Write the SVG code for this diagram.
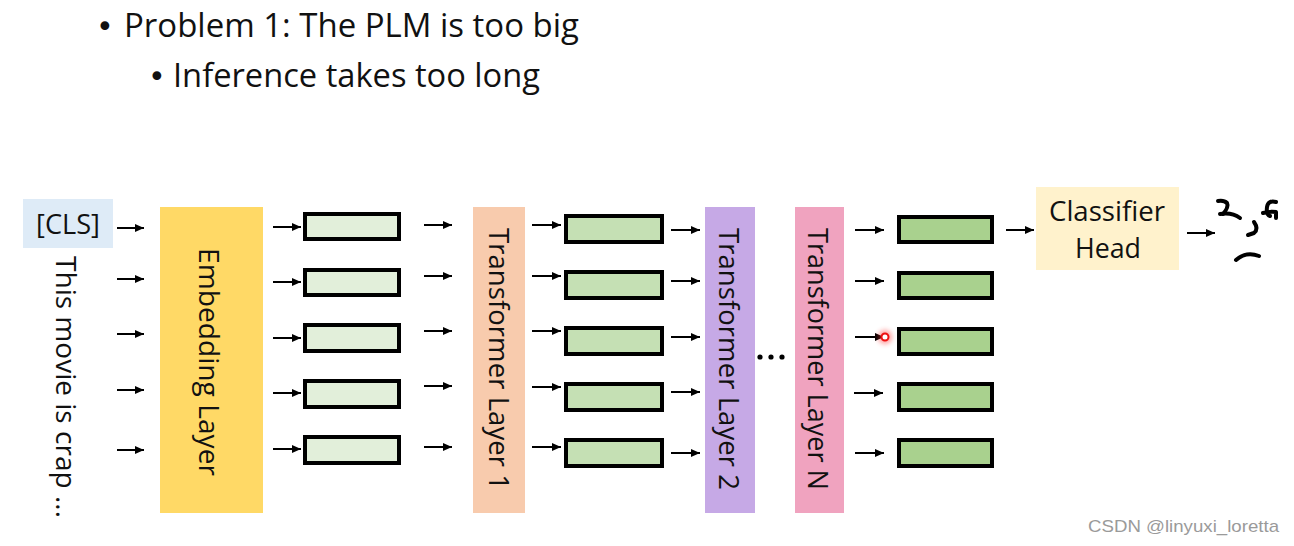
<svg xmlns="http://www.w3.org/2000/svg" width="1294" height="546" viewBox="0 0 1294 546">
<defs>
<marker id="ah" markerUnits="userSpaceOnUse" markerWidth="10" markerHeight="8" refX="9" refY="4" orient="auto">
<path d="M0,0 L9,4 L0,8 z" fill="#000"/>
</marker>
<filter id="glow" x="-1" y="-1" width="3" height="3"><feGaussianBlur stdDeviation="2.5"/></filter>
</defs>
<style>
text{font-family:"Open Sans","Noto Sans","Liberation Sans",sans-serif;fill:#111;}
.t{font-size:32px;}
.b{font-family:"DejaVu Sans",sans-serif;font-size:30px;}
.lbl{font-size:27px;}
.vec{stroke:#000;stroke-width:4;}
.c1{fill:#e2efda;}
.c2{fill:#c5e0b4;}
.c3{fill:#a9d18e;}
.ar{stroke:#000;stroke-width:2;marker-end:url(#ah);fill:none;}
.doodle{fill:none;stroke:#000;stroke-width:4;stroke-linecap:round;stroke-linejoin:round;}
.wm{font-family:"Liberation Sans",sans-serif;font-size:17px;fill:#9a9a9a;}
</style>
<rect width="1294" height="546" fill="#fff"/>

<g id="title">
<text class="b" x="96" y="37">•</text>
<text class="t" x="124" y="37" textLength="455" lengthAdjust="spacingAndGlyphs">Problem 1: The PLM is too big</text>
<text class="b" x="148" y="87">•</text>
<text class="t" x="173" y="87" textLength="367" lengthAdjust="spacingAndGlyphs">Inference takes too long</text>
</g>

<g id="cls">
<rect x="23" y="199" width="90" height="49" fill="#deebf7"/>
<text class="lbl" x="68" y="234" text-anchor="middle" textLength="64" lengthAdjust="spacingAndGlyphs">[CLS]</text>
</g>

<g id="sentence">
<text class="lbl" transform="translate(56,256) rotate(90)" textLength="262" lengthAdjust="spacingAndGlyphs">This movie is crap ...</text>
</g>

<g id="embedding">
<rect x="160" y="207" width="103" height="306" fill="#ffd966"/>
<text class="lbl" transform="translate(199,248) rotate(90)" textLength="228" lengthAdjust="spacingAndGlyphs">Embedding Layer</text>
</g>

<g id="emb-out">
<rect class="vec c1" x="305" y="214" width="94" height="25"/>
<rect class="vec c1" x="305" y="270" width="94" height="25"/>
<rect class="vec c1" x="305" y="325" width="94" height="26"/>
<rect class="vec c1" x="305" y="381" width="94" height="26"/>
<rect class="vec c1" x="305" y="437" width="94" height="26"/>
</g>

<g id="transformer1">
<rect x="473" y="207" width="52" height="306" fill="#f8cbad"/>
<text class="lbl" transform="translate(489,228) rotate(90)" textLength="262" lengthAdjust="spacingAndGlyphs">Transformer Layer 1</text>
</g>

<g id="t1-out">
<rect class="vec c2" x="566" y="216" width="96" height="26"/>
<rect class="vec c2" x="566" y="272" width="96" height="26"/>
<rect class="vec c2" x="566" y="328" width="96" height="26"/>
<rect class="vec c2" x="566" y="384" width="96" height="26"/>
<rect class="vec c2" x="566" y="440" width="96" height="26"/>
</g>

<g id="transformer2">
<rect x="705" y="207" width="50" height="306" fill="#c6a9e6"/>
<text class="lbl" transform="translate(719,228) rotate(90)" textLength="262" lengthAdjust="spacingAndGlyphs">Transformer Layer 2</text>
</g>

<g id="ellipsis">
<circle cx="760" cy="357" r="2.6" fill="#000"/>
<circle cx="771" cy="357" r="2.6" fill="#000"/>
<circle cx="782" cy="357" r="2.6" fill="#000"/>
</g>

<g id="transformerN">
<rect x="795" y="207" width="49" height="306" fill="#f0a3bf"/>
<text class="lbl" transform="translate(808,228) rotate(90)" textLength="262" lengthAdjust="spacingAndGlyphs">Transformer Layer N</text>
</g>

<g id="tN-out">
<rect class="vec c3" x="899" y="217" width="93" height="25"/>
<rect class="vec c3" x="899" y="273" width="93" height="25"/>
<rect class="vec c3" x="899" y="329" width="93" height="25"/>
<rect class="vec c3" x="899" y="384" width="93" height="26"/>
<rect class="vec c3" x="899" y="440" width="93" height="26"/>
</g>

<g id="classifier">
<rect x="1036" y="187" width="143" height="83" fill="#fff2cc"/>
<text class="lbl" x="1107" y="221" text-anchor="middle" textLength="116" lengthAdjust="spacingAndGlyphs">Classifier</text>
<text class="lbl" x="1108" y="258" text-anchor="middle" textLength="66" lengthAdjust="spacingAndGlyphs">Head</text>
</g>

<g id="face">
<path class="doodle" d="M1218,201 Q1224,200 1227,203 Q1229,207 1223,214"/>
<path class="doodle" d="M1220,214 Q1232,212 1240,218"/>
<path class="doodle" d="M1276,202 Q1268,200 1267,207 Q1266,215 1270,216"/>
<path class="doodle" d="M1263,213 Q1271,211 1276,212 L1276,218"/>
<path class="doodle" d="M1254,222 Q1259,229 1254,233 L1248,235"/>
<path class="doodle" d="M1236,260 Q1246,251 1259,256"/>
</g>

<g id="connectors">
<line class="ar" x1="117" y1="228" x2="144" y2="228"/>
<line class="ar" x1="117" y1="279" x2="144" y2="279"/>
<line class="ar" x1="117" y1="334" x2="144" y2="334"/>
<line class="ar" x1="117" y1="390" x2="144" y2="390"/>
<line class="ar" x1="117" y1="450" x2="144" y2="450"/>

<line class="ar" x1="273" y1="227" x2="301" y2="227"/>
<line class="ar" x1="273" y1="282" x2="301" y2="282"/>
<line class="ar" x1="273" y1="338" x2="301" y2="338"/>
<line class="ar" x1="273" y1="393" x2="301" y2="393"/>
<line class="ar" x1="273" y1="449" x2="301" y2="449"/>

<line class="ar" x1="424" y1="225" x2="452" y2="225"/>
<line class="ar" x1="424" y1="276" x2="452" y2="276"/>
<line class="ar" x1="424" y1="331" x2="452" y2="331"/>
<line class="ar" x1="424" y1="386" x2="452" y2="386"/>
<line class="ar" x1="424" y1="447" x2="452" y2="447"/>

<line class="ar" x1="532" y1="225" x2="561" y2="225"/>
<line class="ar" x1="532" y1="276" x2="561" y2="276"/>
<line class="ar" x1="532" y1="331" x2="561" y2="331"/>
<line class="ar" x1="532" y1="387" x2="561" y2="387"/>
<line class="ar" x1="532" y1="447" x2="561" y2="447"/>

<line class="ar" x1="671" y1="230" x2="700" y2="230"/>
<line class="ar" x1="671" y1="281" x2="700" y2="281"/>
<line class="ar" x1="671" y1="337" x2="700" y2="337"/>
<line class="ar" x1="671" y1="392" x2="700" y2="392"/>
<line class="ar" x1="671" y1="453" x2="700" y2="453"/>

<line class="ar" x1="855" y1="230" x2="884" y2="230"/>
<line class="ar" x1="855" y1="281" x2="884" y2="281"/>
<line class="ar" x1="855" y1="337" x2="884" y2="337"/>
<line class="ar" x1="854" y1="393" x2="883" y2="393"/>
<line class="ar" x1="855" y1="453" x2="884" y2="453"/>

<line class="ar" x1="1006" y1="230" x2="1034" y2="230"/>
<line class="ar" x1="1187" y1="233" x2="1215" y2="233"/>
</g>

<g id="pointer">
<circle cx="885" cy="337" r="7" fill="#ff2a2a" opacity="0.45" filter="url(#glow)"/>
<circle cx="885" cy="337" r="3.5" fill="#fff" stroke="#ee1111" stroke-width="2"/>
</g>

<text class="wm" x="1088" y="532" textLength="191" lengthAdjust="spacingAndGlyphs">CSDN @linyuxi_loretta</text>
</svg>
